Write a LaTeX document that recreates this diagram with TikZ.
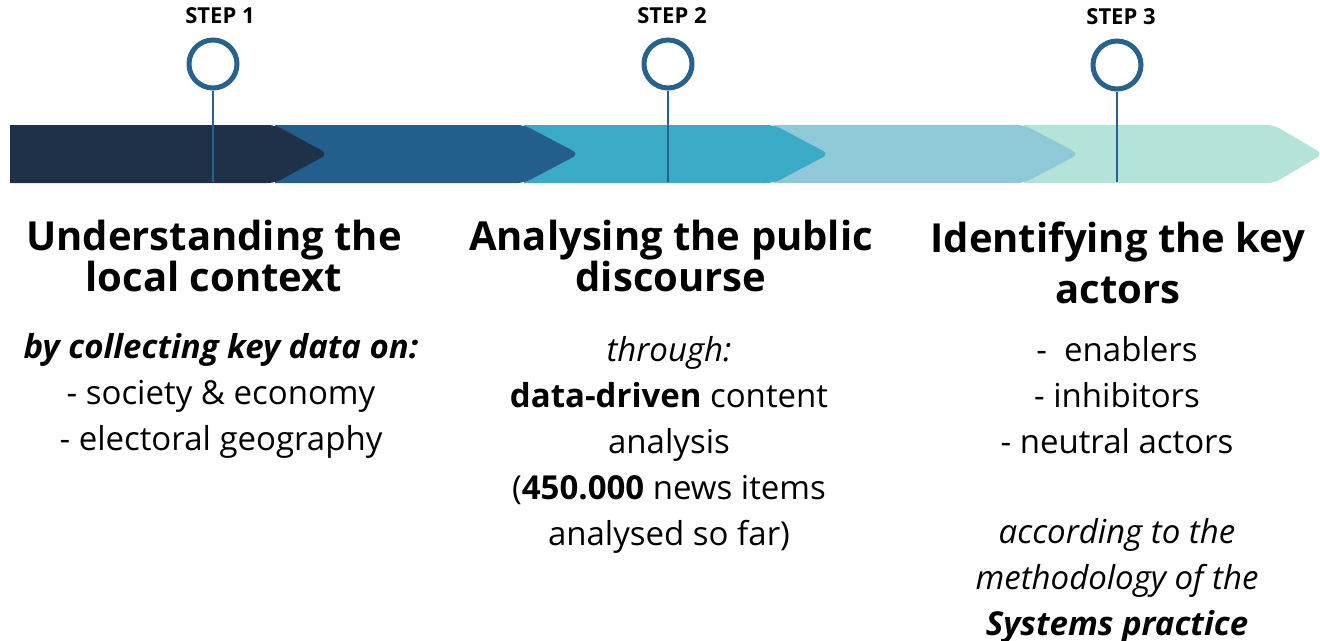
\documentclass[tikz,border=0pt]{standalone}
\usepackage{fontspec}
\setmainfont{Open Sans}
\usetikzlibrary{positioning}
\definecolor{navy}{HTML}{1F3049}
\definecolor{steel}{HTML}{235F8C}
\definecolor{teal}{HTML}{3AAAC6}
\definecolor{skyblue}{HTML}{8FC9D8}
\definecolor{mint}{HTML}{B4E3DA}
\definecolor{ringblue}{HTML}{26628F}

\begin{document}
\begin{tikzpicture}[x=1pt,y=1pt,
  stepring/.style={circle,draw=ringblue,line width=5pt,fill=white,minimum size=48pt,inner sep=0pt},
  steplabel/.style={font=\fontsize{22}{26}\selectfont\bfseries,inner sep=0pt},
  stem/.style={draw=ringblue,line width=2pt},
  heading/.style={align=center,inner sep=0pt,anchor=north,font=\fontsize{40}{41}\selectfont\bfseries},
  body/.style={align=center,inner sep=0pt,anchor=north,font=\fontsize{33}{46}\selectfont}]
  \useasboundingbox (0,0) rectangle (1320,-640);
  % band of arrow segments, back to front
  \foreach \xa/\xb/\xc/\col in {1024/1274/1323/mint,774/1024/1079/skyblue,524/774/829/teal,275/524/579/steel,10/275/328/navy}
    \fill[\col] (\xa,-125) [rounded corners=7pt] -- (\xb,-125) -- (\xc,-154) -- (\xb,-183) [sharp corners] -- (\xa,-183) -- cycle;
  % step markers
  \node[stepring] (s1) at (213,-64) {};
  \node[stepring] (s2) at (668,-64) {};
  \node[stepring] (s3) at (1117,-65) {};
  \node[steplabel,above=14pt of s1,xshift=7pt] (l1) {STEP 1};
  \node[steplabel,above=14pt of s2,xshift=4pt] (l2) {STEP 2};
  \node[steplabel,above=14pt of s3,xshift=4pt] (l3) {STEP 3};
  \coordinate (e1) at (213,-182);
  \coordinate (e2) at (668,-182);
  \coordinate (e3) at (1117,-182);
  \draw[stem] (s1) -- (e1);
  \draw[stem] (s2) -- (e2);
  \draw[stem] (s3) -- (e3);
  % texts
  \node[heading] (h1) at (214,-220) {Understanding the\\local context};
  \node[heading] (h2) at (671,-220) {Analysing the public\\discourse};
  \node[heading,font=\fontsize{40}{51}\selectfont\bfseries] (h3) at (1118,-222) {Identifying the key\\actors};
  \node[body] (b1) at (221,-333) {\textbf{\textit{by collecting key data on:}}\\- society \& economy\\- electoral geography};
  \node[body] (b2) at (669,-336) {\textit{through:}\\\textbf{data-driven} content\\analysis\\(\textbf{450.000} news items\\analysed so far)};
  \node[body] (b3) at (1117,-336) {-\ \ enablers\\- inhibitors\\- neutral actors\\[44pt]\textit{according to the}\\\textit{methodology of the}\\\textbf{\textit{Systems practice}}};
\end{tikzpicture}
\end{document}
